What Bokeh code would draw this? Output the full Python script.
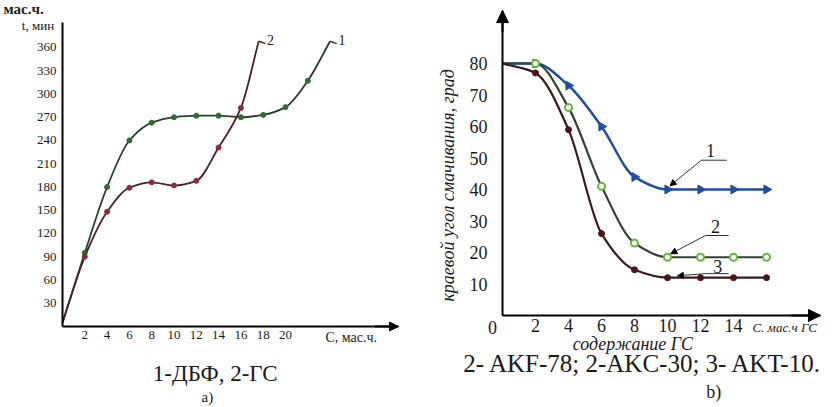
import numpy as np
from bokeh.plotting import figure
from bokeh.layouts import row
from bokeh.models import Label, Arrow, NormalHead, ColumnDataSource, FixedTicker
from bokeh.embed import file_html
from bokeh.resources import INLINE

# ---------------- data: chart a) ----------------
a_c1 = [0, 2, 4, 6, 8, 10, 12, 14, 16, 18, 20, 22, 24]
a_t1 = [5, 95, 180, 240, 263, 270, 272, 272, 270, 273, 283, 317, 368]      # 1-ДБФ
a_c2 = [0, 2, 4, 6, 8, 10, 12, 14, 16, 17.6]
a_t2 = [5, 90, 148, 179, 186, 182, 188, 231, 282, 368]                      # 2-ГС
a_xticks = [2, 4, 6, 8, 10, 12, 14, 16, 18, 20]
a_yticks = [30, 60, 90, 120, 150, 180, 210, 240, 270, 300, 330, 360]

# ---------------- data: chart b) ----------------
b_c = [0, 2, 4, 6, 8, 10, 12, 14, 16]
b_1 = [80, 80, 73, 60, 44, 40, 40, 40, 40]
b_2 = [80, 80, 66, 41, 23, 18.5, 18.5, 18.5, 18.5]
b_3 = [80, 77, 59, 26, 14.5, 12, 12, 12, 12]
b_xticks = [2, 4, 6, 8, 10, 12, 14]
b_yticks = [10, 20, 30, 40, 50, 60, 70, 80]

SERIF = "Liberation Serif"
INK = "#1a1a1a"


def smooth(x, y):
    """Monotone cubic (PCHIP) segments expressed as Bezier control points."""
    x = np.asarray(x, float)
    y = np.asarray(y, float)
    h = np.diff(x)
    d = np.diff(y) / h
    n = len(x)
    m = np.zeros(n)
    m[0] = d[0]
    m[-1] = d[-1]
    for k in range(1, n - 1):
        if d[k - 1] * d[k] <= 0:
            m[k] = 0.0
        else:
            w1 = 2 * h[k] + h[k - 1]
            w2 = h[k] + 2 * h[k - 1]
            m[k] = (w1 + w2) / (w1 / d[k - 1] + w2 / d[k])
    return ColumnDataSource(dict(
        x0=x[:-1], y0=y[:-1], x1=x[1:], y1=y[1:],
        cx0=x[:-1] + h / 3, cy0=y[:-1] + m[:-1] * h / 3,
        cx1=x[1:] - h / 3, cy1=y[1:] - m[1:] * h / 3))


def style_axis(ax, size, standoff, bounds):
    ax.fixed_location = 0
    ax.bounds = bounds
    ax.axis_line_width = 2
    ax.axis_line_color = "black"
    ax.major_tick_line_color = None
    ax.minor_tick_line_color = None
    ax.major_tick_out = 0
    ax.major_tick_in = 0
    ax.major_label_text_font = SERIF
    ax.major_label_text_font_size = size
    ax.major_label_text_color = INK
    ax.major_label_standoff = standoff


def lab(p, x, y, text, size, align="center", style="normal", angle=0.0, baseline="middle"):
    p.add_layout(Label(x=x, y=y, text=text, text_font=SERIF, text_font_size=size,
                       text_align=align, text_baseline=baseline, text_font_style=style,
                       angle=angle, text_color=INK))


def make_fig(xr, yr):
    p = figure(width=419, height=407, x_range=xr, y_range=yr,
               output_backend="svg", toolbar_location=None,
               min_border_left=0, min_border_right=0, min_border_top=0, min_border_bottom=0)
    p.grid.visible = False
    p.outline_line_color = None
    return p


# ================= chart a) =================
A_X, A_Y = 30.13, 392.3          # axis extents (arrow tips)
pa = make_fig((-5.56, 32.02), (-104.5, 420.6))
pa.xaxis.ticker = FixedTicker(ticks=a_xticks)
pa.yaxis.ticker = FixedTicker(ticks=a_yticks)
style_axis(pa.xaxis[0], "13px", 4, (0, A_X))
style_axis(pa.yaxis[0], "13px", 6, (0, A_Y))

c1_line, c1_pt = "#22402a", "#2f6a33"
c2_line, c2_pt = "#4a1f2a", "#8a2a3c"
pa.bezier(x0="x0", y0="y0", x1="x1", y1="y1", cx0="cx0", cy0="cy0", cx1="cx1", cy1="cy1",
          source=smooth(a_c1, a_t1), line_color=c1_line, line_width=1.8)
pa.bezier(x0="x0", y0="y0", x1="x1", y1="y1", cx0="cx0", cy0="cy0", cx1="cx1", cy1="cy1",
          source=smooth(a_c2, a_t2), line_color=c2_line, line_width=1.8)
pa.scatter(a_c1[1:-1], a_t1[1:-1], size=5, color=c1_pt)
pa.scatter(a_c2[1:-1], a_t2[1:-1], size=5, color=c2_pt)

# end hooks + curve numbers
pa.line([a_c2[-1], a_c2[-1] + 0.6], [a_t2[-1], a_t2[-1] - 3], line_color=c2_line, line_width=1.5)
pa.line([a_c1[-1], a_c1[-1] + 0.6], [a_t1[-1], a_t1[-1] - 3], line_color=c1_line, line_width=1.5)
lab(pa, a_c2[-1] + 0.75, a_t2[-1] + 1, "2", "14px", align="left")
lab(pa, a_c1[-1] + 0.75, a_t1[-1] + 1, "1", "14px", align="left")

# x-axis arrow head
pa.add_layout(Arrow(end=NormalHead(size=9, fill_color="black", line_color="black"),
                    x_start=28, y_start=0, x_end=A_X, y_end=0,
                    line_color="black", line_width=2))

lab(pa, -5.3, 410, "мас.ч.", "15px", align="left", style="bold")
lab(pa, -2.2, 388, "t, мин", "13px")
lab(pa, 25.9, -14, "С, мас.ч.", "14px")
lab(pa, 13.7, -61, "1-ДБФ, 2-ГС", "23px")
lab(pa, 13.0, -90.5, "a)", "15px")

# ================= chart b) =================
B_X, B_Y = 19.27, 96.8
pb = make_fig((-5.03, 20.36), (-29.2, 100.0))
pb.xaxis.ticker = FixedTicker(ticks=b_xticks)
pb.yaxis.ticker = FixedTicker(ticks=b_yticks)
style_axis(pb.xaxis[0], "18px", 3, (0, B_X))
style_axis(pb.yaxis[0], "18px", 15, (0, B_Y))

blue = "#1f4f9f"
g_line, g_pt = "#33402f", "#62b83a"
r_line, r_pt = "#3a1a1c", "#4a1518"

pb.bezier(x0="x0", y0="y0", x1="x1", y1="y1", cx0="cx0", cy0="cy0", cx1="cx1", cy1="cy1",
          source=smooth(b_c, b_1), line_color=blue, line_width=2.5)
pb.bezier(x0="x0", y0="y0", x1="x1", y1="y1", cx0="cx0", cy0="cy0", cx1="cx1", cy1="cy1",
          source=smooth(b_c, b_2), line_color=g_line, line_width=2.2)
pb.bezier(x0="x0", y0="y0", x1="x1", y1="y1", cx0="cx0", cy0="cy0", cx1="cx1", cy1="cy1",
          source=smooth(b_c, b_3), line_color=r_line, line_width=2.2)

pb.scatter(b_c[1:], b_1[1:], marker="triangle", angle=-np.pi / 2, size=9,
           fill_color=blue, line_color=blue)
pb.scatter(b_c[1:], b_3[1:], marker="circle", size=6, fill_color=r_pt, line_color=r_pt)
pb.scatter(b_c[1:], b_2[1:], marker="circle", size=7, fill_color="white",
           line_color=g_pt, line_width=2)

# axis arrow heads
pb.add_layout(Arrow(end=NormalHead(size=12, fill_color="black", line_color="black"),
                    x_start=0, y_start=90, x_end=0, y_end=B_Y, line_color="black", line_width=2))
pb.add_layout(Arrow(end=NormalHead(size=12, fill_color="black", line_color="black"),
                    x_start=17.5, y_start=0, x_end=B_X, y_end=0, line_color="black", line_width=2))

# curve number leaders
for (ux0, ux1, uy, ax_, ay_) in [(12.05, 13.6, 49.3, 10.15, 41.2),
                                 (12.3, 13.7, 25.4, 10.2, 19.6),
                                 (12.3, 13.7, 13.3, 10.6, 12.6)]:
    pb.line([ux0, ux1], [uy, uy], line_color="#333333", line_width=1)
    pb.add_layout(Arrow(end=NormalHead(size=6, fill_color="black", line_color="black"),
                        x_start=ux0, y_start=uy, x_end=ax_, y_end=ay_,
                        line_color="#333333", line_width=1))
lab(pb, 12.6, 52.5, "1", "18px")
lab(pb, 12.9, 28.3, "2", "18px")
lab(pb, 13.05, 15.5, "3", "18px")

lab(pb, -0.6, -3.9, "0", "18px")
lab(pb, 17.1, -3.9, "С. мас.ч ГС", "13px", style="italic")
lab(pb, 7.9, -8.9, "содержание ГС", "18px", style="italic")
lab(pb, -3.3, 41.3, "краевой угол смачивания, град", "18px", style="italic", angle=np.pi / 2)
lab(pb, 8.7, -15.2, "2-  AKF-78; 2-AKC-30; 3- AKT-10.", "25px")
lab(pb, 12.8, -24.4, "b)", "18px")

layout = row(pa, pb)
open("out.html", "w").write(file_html(layout, INLINE))
